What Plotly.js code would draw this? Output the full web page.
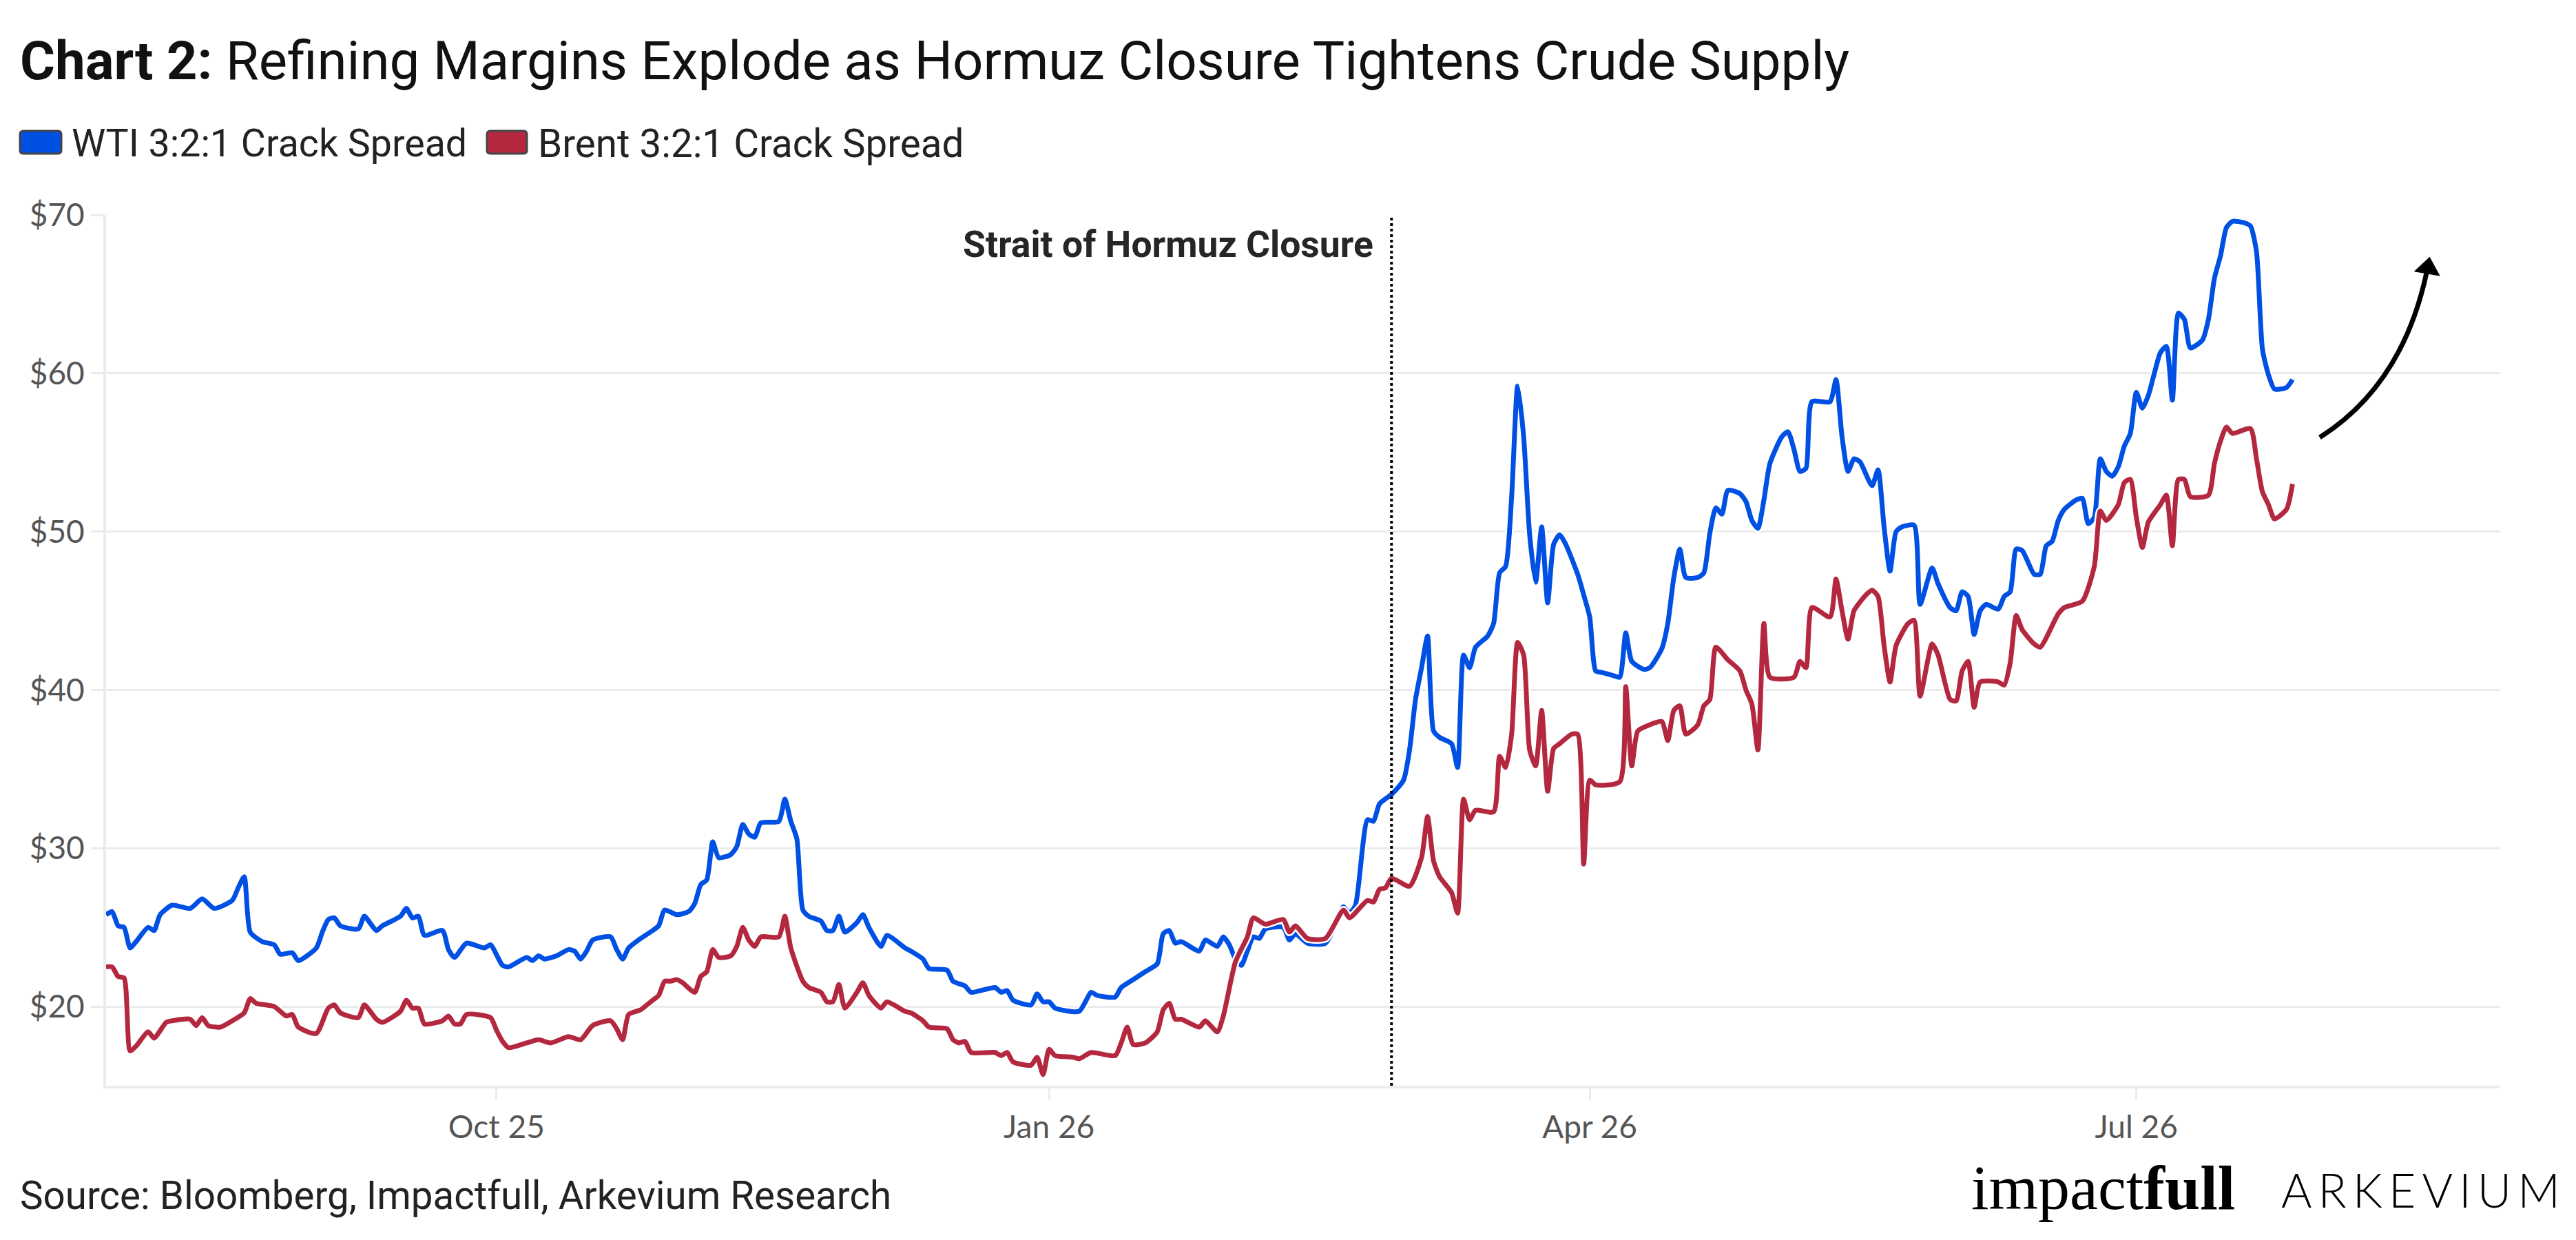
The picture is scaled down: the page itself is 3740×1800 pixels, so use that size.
<!DOCTYPE html>
<html>
<head>
<meta charset="utf-8">
<script src="https://cdn.plot.ly/plotly-3.0.1.min.js"></script>
<style>
  html, body { margin: 0; padding: 0; background: #fff; }
  #chart { width: 3740px; height: 1800px; }
  /* the Arkevium wordmark is set with wide tracking */
  #chart g.annotation[data-index="5"] text { letter-spacing: 9px; }
</style>
</head>
<body>
<div id="chart"></div>
<script>
// ---- data -------------------------------------------------------------
// x values are day offsets from the first observation, 28 Jul 2025
const seriesStart = [2025, 6, 28];

const wtiDays = [
  0, 1, 2, 3, 4, 5, 7, 8, 9, 11,
  14, 16, 18, 21, 22, 23, 24, 26, 28, 29,
  31, 32, 35, 36, 37, 38, 39, 42, 43, 45,
  46, 49, 50, 51, 52, 53, 56, 57, 58, 60,
  63, 64, 66, 67, 70, 71, 72, 73, 75, 77,
  78, 79, 80, 81, 84, 85, 86, 87, 89, 91,
  92, 93, 95, 97, 98, 99, 100, 101, 102, 104,
  105, 106, 107, 108, 109, 112, 113, 114, 115, 116,
  117, 119, 120, 121, 122, 123, 125, 126, 127, 129,
  130, 133, 134, 136, 137, 140, 141, 143, 144, 148,
  149, 150, 151, 154, 155, 156, 157, 158, 162, 164,
  165, 168, 169, 171, 173, 175, 176, 177, 178, 179,
  182, 183, 185, 186, 187, 188, 189, 190, 191, 192,
  193, 196, 197, 198, 200, 203, 205, 206, 207, 208,
  210, 211, 212, 214, 216, 217, 218, 219, 220, 221,
  222, 224, 225, 226, 227, 228, 230, 231, 232, 233,
  234, 235, 236, 237, 238, 239, 240, 241, 242, 243,
  245, 246, 247, 248, 249, 251, 252, 253, 254, 256,
  257, 259, 260, 261, 262, 263, 265, 266, 267, 268,
  269, 270, 272, 273, 274, 275, 276, 277, 279, 280,
  281, 282, 283, 284, 287, 288, 289, 290, 291, 292,
  294, 295, 296, 297, 298, 299, 301, 302, 304, 305,
  307, 308, 309, 310, 311, 312, 313, 315, 316, 317,
  318, 319, 321, 322, 323, 324, 325, 326, 328, 329,
  330, 331, 332, 333, 334, 335, 336, 337, 338, 339,
  340, 341, 342, 343, 344, 345, 346, 347, 349, 350,
  351, 352, 353, 354, 356, 357, 358, 359, 360, 361,
  363, 364
];
const wtiValues = [
  25.8, 26.0, 25.1, 25.0, 23.7, 24.1, 25.0, 24.8, 25.8, 26.4,
  26.2, 26.8, 26.2, 26.7, 27.5, 28.2, 24.7, 24.1, 23.9, 23.3,
  23.4, 22.9, 23.7, 24.7, 25.5, 25.6, 25.1, 24.9, 25.7, 24.8,
  25.1, 25.7, 26.2, 25.6, 25.7, 24.5, 24.8, 23.6, 23.1, 24.0,
  23.7, 23.9, 22.6, 22.5, 23.1, 22.9, 23.2, 23.0, 23.2, 23.6,
  23.5, 23.0, 23.5, 24.2, 24.4, 23.6, 23.0, 23.7, 24.3, 24.8,
  25.1, 26.1, 25.8, 26.0, 26.5, 27.7, 28.0, 30.4, 29.4, 29.6,
  30.1, 31.5, 30.9, 30.7, 31.6, 31.7, 33.1, 31.7, 30.6, 26.1,
  25.7, 25.4, 24.8, 24.8, 25.7, 24.7, 25.3, 25.8, 25.0, 23.8,
  24.5, 23.7, 23.5, 23.0, 22.4, 22.3, 21.6, 21.3, 20.9, 21.2,
  20.9, 21.0, 20.4, 20.1, 20.8, 20.3, 20.3, 19.9, 19.7, 20.9,
  20.7, 20.6, 21.2, 21.7, 22.2, 22.7, 24.6, 24.8, 24.0, 24.1,
  23.5, 24.2, 23.8, 24.4, 23.9, 23.0, 22.6, 23.5, 24.4, 24.3,
  24.9, 25.0, 24.2, 24.6, 24.0, 24.0, 25.4, 26.3, 25.9, 26.4,
  31.8, 31.7, 32.8, 33.4, 34.3, 36.2, 39.4, 41.4, 43.4, 37.4,
  37.0, 36.6, 35.1, 42.2, 41.4, 42.7, 43.4, 44.2, 47.4, 47.8,
  52.2, 59.2, 56.0, 49.8, 46.8, 50.3, 45.5, 49.2, 49.8, 49.2,
  47.3, 46.0, 44.6, 41.2, 41.1, 40.9, 40.8, 43.6, 41.8, 41.3,
  41.4, 42.6, 44.2, 47.1, 48.9, 47.1, 47.1, 47.4, 49.9, 51.5,
  51.1, 52.6, 52.4, 51.9, 50.7, 50.2, 52.0, 54.3, 56.0, 56.3,
  55.2, 53.8, 54.0, 58.2, 58.2, 59.6, 56.0, 53.8, 54.6, 54.4,
  52.9, 53.9, 50.3, 47.5, 50.0, 50.3, 50.4, 45.4, 47.7, 46.7,
  45.2, 45.0, 46.2, 45.9, 43.5, 45.0, 45.4, 45.1, 45.9, 46.2,
  48.9, 48.8, 47.3, 47.3, 49.1, 49.4, 50.7, 51.4, 52.0, 52.1,
  50.5, 50.9, 54.6, 53.8, 53.5, 54.1, 55.4, 56.2, 58.8, 57.8,
  58.6, 60.0, 61.3, 61.7, 58.3, 63.8, 63.4, 61.6, 62.1, 63.4,
  66.0, 67.4, 69.2, 69.6, 69.5, 69.3, 67.7, 61.5, 59.9, 59.0,
  59.1, 59.6
];

const brentDays = [
  0, 1, 2, 3, 4, 5, 7, 8, 10, 11,
  14, 15, 16, 17, 19, 21, 23, 24, 25, 28,
  30, 31, 32, 35, 37, 38, 39, 42, 43, 45,
  46, 49, 50, 51, 52, 53, 56, 57, 58, 59,
  60, 64, 65, 66, 67, 70, 72, 74, 77, 79,
  81, 84, 85, 86, 87, 89, 91, 92, 93, 94,
  95, 96, 98, 99, 100, 101, 102, 104, 105, 106,
  107, 108, 109, 112, 113, 114, 116, 117, 119, 120,
  121, 122, 123, 125, 126, 127, 129, 130, 133, 134,
  136, 137, 140, 141, 142, 143, 144, 148, 149, 150,
  151, 154, 155, 156, 157, 158, 161, 162, 164, 168,
  169, 170, 171, 173, 175, 176, 177, 178, 179, 182,
  183, 185, 186, 188, 190, 191, 193, 196, 197, 198,
  200, 203, 206, 207, 210, 211, 212, 213, 214, 217,
  219, 220, 221, 222, 224, 225, 226, 227, 228, 231,
  232, 233, 234, 235, 236, 237, 238, 239, 240, 241,
  242, 244, 245, 246, 247, 248, 252, 253, 254, 255,
  257, 259, 260, 261, 262, 263, 265, 266, 267, 268,
  270, 272, 273, 274, 275, 276, 277, 281, 282, 283,
  284, 287, 288, 289, 290, 291, 293, 294, 295, 296,
  297, 298, 300, 301, 302, 304, 305, 307, 308, 309,
  310, 311, 312, 315, 316, 317, 318, 319, 321, 322,
  325, 326, 329, 331, 332, 333, 335, 336, 337, 338,
  339, 340, 342, 343, 344, 345, 346, 347, 350, 351,
  352, 353, 354, 357, 358, 359, 360, 361, 363, 364
];
const brentValues = [
  22.5, 22.5, 21.9, 21.8, 17.2, 17.5, 18.4, 18.0, 19.0, 19.1,
  19.2, 18.8, 19.3, 18.8, 18.7, 19.1, 19.6, 20.5, 20.2, 20.0,
  19.4, 19.5, 18.7, 18.3, 19.9, 20.1, 19.6, 19.3, 20.1, 19.2,
  19.0, 19.7, 20.4, 19.9, 19.9, 18.9, 19.1, 19.4, 18.9, 18.9,
  19.5, 19.3, 18.5, 17.8, 17.4, 17.7, 17.9, 17.7, 18.1, 17.9,
  18.8, 19.1, 18.6, 17.9, 19.5, 19.8, 20.4, 20.7, 21.6, 21.6,
  21.7, 21.5, 20.9, 21.9, 22.2, 23.6, 23.1, 23.2, 23.8, 25.0,
  24.2, 23.8, 24.4, 24.4, 25.7, 23.7, 21.6, 21.2, 20.9, 20.3,
  20.3, 21.4, 19.9, 20.9, 21.5, 20.7, 19.9, 20.3, 19.7, 19.6,
  19.1, 18.7, 18.6, 17.9, 17.7, 17.8, 17.1, 17.1, 16.9, 17.1,
  16.5, 16.3, 16.8, 15.7, 17.3, 16.9, 16.8, 16.7, 17.1, 16.9,
  17.7, 18.7, 17.6, 17.7, 18.4, 19.8, 20.2, 19.2, 19.2, 18.7,
  19.1, 18.4, 19.4, 22.8, 24.4, 25.6, 25.2, 25.5, 24.7, 25.1,
  24.3, 24.3, 26.1, 25.6, 26.7, 26.6, 27.4, 27.5, 28.1, 27.6,
  29.4, 32.0, 29.2, 28.2, 27.2, 25.9, 33.1, 31.8, 32.4, 32.3,
  35.8, 35.1, 37.2, 43.0, 42.2, 36.2, 35.2, 38.7, 33.6, 36.3,
  36.6, 37.2, 37.2, 29.0, 34.3, 34.0, 34.2, 40.2, 35.2, 37.4,
  37.8, 38.0, 36.8, 38.7, 39.0, 37.2, 37.8, 39.0, 39.4, 42.7,
  41.9, 41.2, 40.0, 39.1, 36.2, 44.2, 40.8, 40.8, 41.8, 41.4,
  45.2, 44.6, 47.0, 45.0, 43.2, 45.0, 46.0, 46.3, 45.9, 42.8,
  40.5, 42.8, 44.2, 44.4, 39.6, 42.9, 42.2, 39.4, 39.3, 41.2,
  41.8, 38.9, 40.5, 40.5, 40.3, 41.7, 44.7, 43.8, 42.9, 42.7,
  44.8, 45.2, 45.6, 47.8, 51.3, 50.7, 51.7, 53.1, 53.3, 50.9,
  49.0, 50.6, 51.7, 52.3, 49.1, 53.3, 53.3, 52.2, 52.3, 54.3,
  55.7, 56.6, 56.2, 56.5, 54.6, 52.5, 51.7, 50.8, 51.4, 53.0
];

const seriesNames = ['WTI 3:2:1 Crack Spread', 'Brent 3:2:1 Crack Spread'];
const seriesColors = ['#0050E4', '#B4283F'];

const xTickDates = ['2025-10-01', '2026-01-01', '2026-04-01', '2026-07-01'];
const xTickLabels = ['Oct 25', 'Jan 26', 'Apr 26', 'Jul 26'];
const yTickValues = [20, 30, 40, 50, 60, 70];
const yTickLabels = ['$20', '$30', '$40', '$50', '$60', '$70'];

const closureDate = '2026-02-27';
const closureLabel = 'Strait of Hormuz Closure';

// ---- helpers -----------------------------------------------------------
function dayToDate(d) {
    const t = Date.UTC(seriesStart[0], seriesStart[1], seriesStart[2] + d);
    return new Date(t).toISOString().slice(0, 10);
}

const W = 3740, H = 1800;
const margin = {l: 154, r: 110, t: 312, b: 224};
// canvas pixel -> paper fraction, used for the decorations round the plot
const px = x => (x - margin.l) / (W - margin.l - margin.r);
const py = y => (H - margin.b - y) / (H - margin.t - margin.b);

function roundedRect(x0, y0, x1, y1, r) {
    return 'M' + px(x0 + r) + ',' + py(y0) +
        ' L' + px(x1 - r) + ',' + py(y0) +
        ' Q' + px(x1) + ',' + py(y0) + ' ' + px(x1) + ',' + py(y0 + r) +
        ' L' + px(x1) + ',' + py(y1 - r) +
        ' Q' + px(x1) + ',' + py(y1) + ' ' + px(x1 - r) + ',' + py(y1) +
        ' L' + px(x0 + r) + ',' + py(y1) +
        ' Q' + px(x0) + ',' + py(y1) + ' ' + px(x0) + ',' + py(y1 - r) +
        ' L' + px(x0) + ',' + py(y0 + r) +
        ' Q' + px(x0) + ',' + py(y0) + ' ' + px(x0 + r) + ',' + py(y0) + ' Z';
}

// ---- traces ------------------------------------------------------------
const sans = 'Roboto, "Noto Sans", sans-serif';
const tickFamily = 'Lato, "Open Sans", sans-serif';

function lineTrace(days, values, color, width) {
    return {
        type: 'scatter',
        mode: 'lines',
        x: days.map(dayToDate),
        y: values,
        line: {color: color, width: width, shape: 'spline', smoothing: 0.6},
        hoverinfo: 'skip',
        showlegend: false
    };
}

// each series gets a thin white halo underneath, as in the original
const traces = [
    lineTrace(wtiDays, wtiValues, '#ffffff', 12),
    Object.assign(lineTrace(wtiDays, wtiValues, seriesColors[0], 7), {name: seriesNames[0]}),
    lineTrace(brentDays, brentValues, '#ffffff', 12),
    Object.assign(lineTrace(brentDays, brentValues, seriesColors[1], 7), {name: seriesNames[1]})
];

// ---- layout ------------------------------------------------------------
const axisGrey = '#ebebeb';

const layout = {
    width: W,
    height: H,
    margin: margin,
    paper_bgcolor: '#ffffff',
    plot_bgcolor: '#ffffff',
    showlegend: false,
    title: {
        text: '<b>Chart 2:</b> Refining Margins Explode as Hormuz Closure Tightens Crude Supply',
        xref: 'container', x: 29 / W, xanchor: 'left',
        yref: 'container', y: 1 - 88 / H, yanchor: 'middle',
        font: {family: sans, size: 78, color: '#111111'}
    },
    xaxis: {
        type: 'date',
        range: ['2025-07-28', '2026-08-30 14:00'],
        tickmode: 'array',
        tickvals: xTickDates,
        ticktext: xTickLabels,
        ticks: 'outside', ticklen: 17, tickwidth: 3, tickcolor: axisGrey,
        showline: true, linecolor: axisGrey, linewidth: 4,
        showgrid: false, zeroline: false,
        tickfont: {family: tickFamily, size: 46, color: '#555555'}
    },
    yaxis: {
        range: [15, 70],
        tickmode: 'array',
        tickvals: yTickValues,
        ticktext: yTickLabels,
        ticks: 'outside', ticklen: 18, tickwidth: 3, tickcolor: axisGrey,
        showline: true, linecolor: axisGrey, linewidth: 4,
        showgrid: true, gridcolor: axisGrey, gridwidth: 3,
        zeroline: false,
        tickfont: {family: tickFamily, size: 46, color: '#555555'}
    },
    shapes: [
        // legend keys
        {type: 'path', xref: 'paper', yref: 'paper', path: roundedRect(29, 190, 89, 223, 5),
         fillcolor: seriesColors[0], line: {color: '#454545', width: 3}},
        {type: 'path', xref: 'paper', yref: 'paper', path: roundedRect(707, 190, 765, 223, 5),
         fillcolor: seriesColors[1], line: {color: '#454545', width: 3}},
        // closure marker
        {type: 'line', xref: 'x', yref: 'paper', x0: closureDate, x1: closureDate, y0: 0, y1: 1,
         line: {color: '#000000', width: 4, dash: 'dot'}},
        // curved "higher" arrow
        {type: 'path', xref: 'paper', yref: 'paper',
         path: 'M' + px(3368) + ',' + py(635) + ' Q' + px(3488) + ',' + py(559) + ' ' + px(3523) + ',' + py(396),
         line: {color: '#000000', width: 7}},
        {type: 'path', xref: 'paper', yref: 'paper',
         path: 'M' + px(3527) + ',' + py(376) + ' L' + px(3539) + ',' + py(398) + ' L' + px(3509) + ',' + py(393) + ' Z',
         fillcolor: '#000000', line: {color: '#000000', width: 4}}
    ],
    annotations: [
        {xref: 'paper', yref: 'paper', x: px(102), y: py(209), xanchor: 'left', yanchor: 'middle',
         text: seriesNames[0], showarrow: false, font: {family: sans, size: 55.5, color: '#222222'}},
        {xref: 'paper', yref: 'paper', x: px(779), y: py(209), xanchor: 'left', yanchor: 'middle',
         text: seriesNames[1], showarrow: false, font: {family: sans, size: 56.5, color: '#222222'}},
        {xref: 'x', yref: 'paper', x: closureDate, y: py(355), xanchor: 'right', yanchor: 'middle',
         xshift: -24, text: '<b>' + closureLabel + '</b>', showarrow: false,
         font: {family: sans, size: 53.5, color: '#262626'}},
        {xref: 'paper', yref: 'paper', x: px(27), y: py(1736), xanchor: 'left', yanchor: 'middle',
         text: 'Source: Bloomberg, Impactfull, Arkevium Research', showarrow: false,
         font: {family: sans, size: 56.5, color: '#222222'}},
        {xref: 'paper', yref: 'paper', x: px(2860), y: py(1724), xanchor: 'left', yanchor: 'middle',
         text: 'impact<b>full</b>', showarrow: false,
         font: {family: '"Liberation Serif", "DejaVu Serif", serif', size: 92, color: '#000000'}},
        {xref: 'paper', yref: 'paper', x: px(3310), y: py(1726), xanchor: 'left', yanchor: 'middle',
         align: 'left', text: 'ARKEVIUM', showarrow: false,
         font: {family: tickFamily, size: 68, weight: 300, color: '#000000'}}
    ]
};

Plotly.newPlot('chart', traces, layout, {staticPlot: true, displayModeBar: false, responsive: false});
</script>
</body>
</html>
